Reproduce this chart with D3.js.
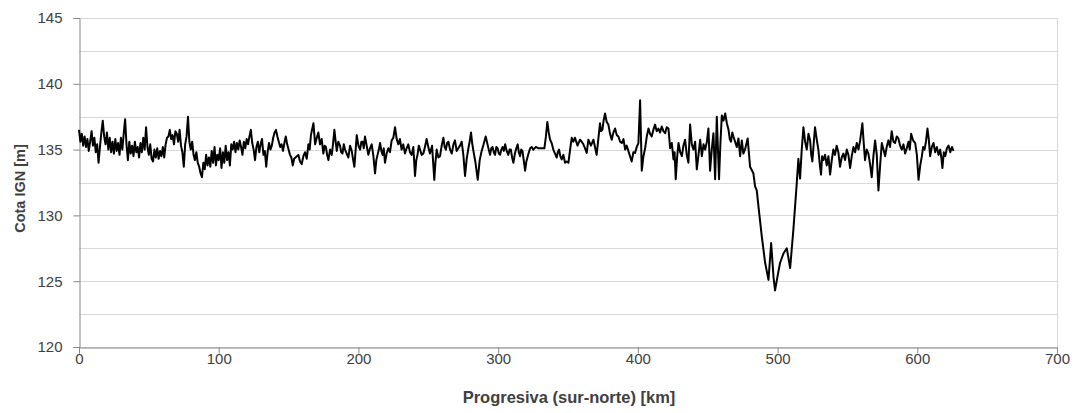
<!DOCTYPE html>
<html><head><meta charset="utf-8">
<script src="https://cdn.jsdelivr.net/npm/d3@7"></script>
<style>
html,body{margin:0;padding:0;background:#fff;}
text{font-family:"Liberation Sans",Arial,sans-serif;fill:#404040;}
</style></head>
<body>
<svg id="c" width="1081" height="413"></svg>
<script>
// --- DATA ---
const progresivaKm = [
0,1,2,3,4,5,6,7,8,9,10,11,12,13,14,15,16,17,18,19,20,21,22,23,24,25,26,27,28,29,
30,31,32,33,34,35,36,37,38,39,40,41,42,43,44,45,46,47,48,49,50,51,52,53,54,55,56,57,58,59,
60,61,62,63,64,65,66,67,68,69,70,71,72,73,74,75,76,77,78,79,80,81,82,83,84,85,86,87,88,89,
90,91,92,93,94,95,96,97,98,99,100,101,102,103,104,105,106,107,108,109,110,111,112,113,114,115,116,117,118,119,
120,121,122,123,124,125,126,127,128,129,130,131,132,133,134,135,136,137,138,139,140,141,142,143,144,145,146,147,148,149,
150,151,152,153,154,
157.0,158.2,159.4,160.6,161.8,163.0,164.2,165.1,166.0,167.8,
169.0,170.2,171.3,172.5,173.7,174.9,175.8,176.7,177.6,178.5,
179.7,180.9,181.8,182.8,183.6,184.5,185.6,186.8,187.7,188.6,
189.5,190.4,191.6,192.8,194.0,195.2,196.1,197.1,198.8,200.0,
201.2,202.1,203.0,203.8,204.7,205.9,207.1,208.3,209.5,210.7,
211.9,212.8,213.7,214.6,215.5,216.4,217.3,218.1,219.0,220.2,
221.4,222.6,223.8,225.0,226.2,227.4,228.6,229.7,230.9,232.1,
233.3,234.5,235.7,236.9,238.1,239.3,240.5,241.4,242.3,243.2,
244.1,245.3,246.5,247.6,248.8,250.0,251.2,252.7,254.3,255.1,
256.0,257.2,258.4,259.6,260.8,261.7,262.6,263.5,264.4,265.6,
266.8,268.0,269.1,270.3,271.5,272.7,273.9,275.1,276.3,277.5,
278.7,279.6,280.6,281.4,282.3,283.8,285.4,286.8,288.2,289.6,
291.1,292.6,294.2,295.1,296.0,296.9,297.8,298.7,299.6,300.5,
301.4,302.3,303.2,304.1,305.0,306.1,307.3,308.2,309.1,310.0,
310.9,
312.1,313.0,314.0,314.8,315.7,316.5,317.4,318.3,319.3,320.2,
321.2,322.0,322.9,324.0,325.2,327.0,328.8,331.0,333.1,334.2,
335.2,336.2,337.2,338.3,339.5,340.7,341.9,342.7,343.6,344.5,
345.5,346.7,347.9,349.1,350.3,351.5,352.7,353.8,355.0,356.8,
358.6,359.8,361.0,362.2,363.4,364.6,366.4,368.2,369.3,370.5,
371.7,372.9,373.7,374.6,375.5,376.5,377.7,378.9,380.1,381.3,
382.5,383.7,384.9,386.1,387.3,388.5,389.7,390.9,392.0,393.2,
394.4,395.6,396.8,398.0,399.2,400.4,401.6,402.8,404.0,405.2,
406.4,407.6,408.7,409.9,411.1,412.3,413.5,414.7,415.9,417.1,
418.3,419.5,420.7,421.9,423.1,424.3,425.5,426.3,427.1,428.1,
429.1,430.3,431.5,432.6,433.8,435.0,436.2,437.4,438.6,439.8,
441.0,442.2,443.4,444.6,445.8,447.0,448.2,449.4,450.5,451.7,
452.9,454.1,455.3,456.5,458.1,459.1,460.1,461.3,462.5,463.7,
464.9,465.8,466.7,467.6,468.4,
469.6,470.8,472.0,473.2,474.4,475.5,476.7,478.6,480.3,482.7,483.9,485.1,486.3,488.7,491.1,493.5,495.4,497.1,498.2,500.2,501.8,504.2,506.6,509.0,511.3,513.7,514.9,
516.1,517.3,518.5,519.7,520.9,522.1,523.3,524.1,524.9,525.9,
526.8,528.0,529.2,530.1,531.1,531.9,532.8,534.0,535.2,536.4,
537.6,538.8,539.9,541.1,542.3,543.5,544.7,545.9,547.1,548.3,
549.5,550.7,551.9,553.1,554.3,555.5,556.7,557.9,559.1,560.7,
561.6,562.6,563.8,565.0,566.2,567.4,568.6,569.8,571.0,572.2,
573.4,574.6,575.8,577.0,578.1,579.3,580.5,581.7,582.9,584.1,
585.3,586.5,587.7,588.9,590.1,591.3,592.5,593.7,594.6,595.6,
597.0,598.5,599.7,600.9,602.1,603.3,604.2,605.2,606.2,607.3,
608.2,609.2,610.4,611.6,612.8,614.0,615.2,616.4,617.2,618.0,
619.0,620.0,621.2,622.4,623.6,624.8,625.9
];
const cotaIGN = [
136.5,135.6,136.2,135.3,136.0,135.2,135.8,134.9,135.6,136.4,135.3,135.9,134.8,135.4,134.0,135.2,136.3,137.2,136.0,135.4,136.3,135.0,135.9,134.8,135.6,134.7,135.8,134.9,135.5,134.6,
135.9,135.0,136.2,137.3,135.4,134.2,135.6,134.7,135.3,134.5,135.6,134.8,135.2,134.4,135.5,134.8,135.9,135.0,136.7,135.2,134.6,135.4,134.3,134.1,135.0,134.4,135.1,134.3,134.9,134.5,
135.2,134.4,135.4,135.9,136.0,136.5,135.8,136.1,135.4,136.4,136.2,135.6,136.5,135.3,134.8,133.7,135.4,136.0,137.5,135.6,135.0,135.6,134.6,134.2,134.8,134.0,133.7,133.2,132.9,134.0,
133.5,134.6,133.8,134.4,133.7,134.9,134.0,135.2,133.8,134.6,134.2,135.1,133.6,134.8,134.0,135.3,134.2,134.8,133.8,135.4,135.0,135.6,134.8,135.5,135.0,135.7,135.2,134.6,135.6,135.1,
135.8,135.4,136.0,136.5,135.5,135.0,134.2,135.2,135.6,134.8,135.4,135.8,134.6,134.9,133.7,134.8,135.5,135.0,135.3,135.9,136.3,136.5,136.0,135.6,135.2,135.4,134.9,135.5,136.0,135.4,
135.0,134.6,134.4,133.8,134.3,
134.6,134.1,133.9,134.5,134.8,134.3,135.4,135.0,136.1,137.0,
135.4,135.9,136.3,135.4,135.8,134.7,135.3,135.2,134.6,134.2,
135.0,134.6,135.4,136.5,135.7,134.9,135.6,135.3,134.8,134.7,
135.4,135.0,134.7,134.4,135.3,134.9,134.3,133.7,136.1,135.3,
135.0,135.6,135.6,135.1,136.0,135.3,134.6,135.1,135.4,134.5,
133.2,134.2,134.6,135.0,135.5,134.9,134.6,135.1,134.0,134.7,
135.1,134.8,135.7,135.9,136.7,135.8,135.4,135.8,135.0,135.4,
134.7,135.1,135.4,134.8,134.6,135.2,133.0,134.2,134.6,135.3,
135.0,134.6,134.7,135.2,135.8,135.2,134.7,135.3,132.7,134.0,
135.0,134.4,134.5,135.3,135.9,135.2,135.0,135.5,135.6,135.0,
134.7,135.4,135.7,134.9,135.1,135.3,135.6,134.6,133.0,134.3,
135.1,135.6,136.3,135.5,134.9,134.0,132.7,134.2,134.9,135.4,
136.0,135.3,134.6,135.1,135.2,134.8,134.6,135.2,135.1,134.7,
134.6,135.0,135.2,134.9,135.4,134.9,134.6,135.0,135.0,134.4,
134.0,
134.75,135.1,135.4,134.8,134.5,135.0,134.9,134.2,133.4,134.1,
134.5,134.8,135.1,135.2,135.0,135.2,135.1,135.1,135.1,136.0,
137.1,136.3,135.75,135.5,135.0,134.7,134.4,134.8,135.0,134.5,
134.25,134.6,134.0,134.1,134.0,135.0,135.9,135.6,135.9,135.3,
135.75,135.6,135.4,135.1,134.75,135.75,135.3,135.75,135.2,134.6,
135.8,137.0,136.4,136.5,137.2,137.75,137.1,136.9,136.2,135.75,
136.3,136.6,136.1,136.0,135.6,135.5,135.8,135.0,135.3,134.9,
134.5,134.1,134.8,134.75,135.2,135.5,138.75,133.4,134.5,135.1,
136.0,136.6,136.2,136.0,136.5,136.9,136.4,136.6,136.3,136.75,
136.4,136.25,136.7,136.6,135.1,135.5,134.25,134.8,132.75,134.4,
135.5,134.8,134.5,135.3,135.75,134.6,134.0,136.9,135.4,135.0,
135.6,133.5,134.6,135.75,134.5,135.4,135.0,135.6,136.6,133.4,
135.0,136.25,132.75,137.5,132.75,135.5,137.6,137.2,137.75,137.0,
136.5,135.8,135.6,136.3,136.0,
135.6,135.2,135.85,134.5,135.7,134.7,135.0,135.85,133.7,133.2,132.2,131.9,130.7,128.4,126.4,125.1,127.9,125.3,124.3,125.5,126.4,127.1,127.5,126.0,128.9,132.4,134.3,
132.8,135.0,136.7,135.6,135.0,136.2,135.7,134.6,134.1,135.5,
136.7,135.8,135.0,134.0,133.1,134.5,134.2,134.6,133.8,134.5,
133.1,134.2,135.0,134.6,135.3,134.8,133.7,134.4,134.7,134.2,
135.0,134.6,133.6,134.5,135.2,134.8,135.5,135.0,135.7,137.0,
135.6,134.2,135.0,134.7,133.9,132.9,134.5,135.7,134.6,131.9,
133.8,135.5,135.0,134.5,135.2,135.7,135.2,136.4,135.6,135.5,
136.0,135.85,135.3,135.0,135.4,134.7,135.1,135.6,135.0,136.2,
135.7,135.5,134.6,132.7,133.8,134.5,135.2,135.0,135.6,136.6,
135.8,134.5,135.2,135.5,134.8,135.2,134.6,135.0,134.4,133.6,
134.8,134.5,135.1,135.3,134.8,135.2,134.9
];
const yTickValues = [120,125,130,135,140,145];
const yGridValues = [120,122.5,125,127.5,130,132.5,135,137.5,140,142.5,145];
const xTickValues = [0,100,200,300,400,500,600,700];
const xTitle = "Progresiva (sur-norte) [km]";
const yTitle = "Cota IGN [m]";

if (progresivaKm.length !== cotaIGN.length) console.error("length mismatch", progresivaKm.length, cotaIGN.length);

const svg = d3.select("#c");
const m = {l:79, r:1057, t:18, b:347};
const x = d3.scaleLinear().domain([0,700]).range([m.l, m.r]);
const y = d3.scaleLinear().domain([120,145]).range([m.b, m.t]);

// gridlines
svg.append("g").selectAll("line").data(yGridValues).join("line")
  .attr("x1", m.l).attr("x2", m.r)
  .attr("y1", d => Math.round(y(d))+0.5).attr("y2", d => Math.round(y(d))+0.5)
  .attr("stroke", "#d9d9d9").attr("stroke-width", 1);
// right border
svg.append("line").attr("x1", m.r+0.5).attr("x2", m.r+0.5).attr("y1", m.t).attr("y2", m.b)
  .attr("stroke", "#d9d9d9");

// axes
const yAxis = d3.axisLeft(y).tickValues(yTickValues).tickSize(6).tickPadding(11).tickFormat(d3.format("d"));
const xAxis = d3.axisBottom(x).tickValues(xTickValues).tickSize(6).tickPadding(0).tickFormat(d3.format("d"));
const gy = svg.append("g").attr("transform", `translate(${m.l+0.5},0)`).call(yAxis);
const gx = svg.append("g").attr("transform", `translate(0,${m.b+0.5})`).call(xAxis);
[gx, gy].forEach(g => {
  g.select(".domain").attr("stroke", "#868686");
  g.selectAll(".tick line").attr("stroke", "#868686");
  g.selectAll(".tick text").style("font-size", "15px").attr("fill", "#404040");
});

// line
const line = d3.line().x((d,i) => x(progresivaKm[i])).y(d => y(d));
svg.append("path").datum(cotaIGN).attr("d", line)
  .attr("fill", "none").attr("stroke", "#000").attr("stroke-width", 2).attr("stroke-linejoin", "round");

// titles
svg.append("text").attr("x", 569).attr("y", 403).attr("text-anchor", "middle")
  .style("font-size", "16.5px").style("font-weight", "bold").attr("fill", "#262626").text(xTitle);
svg.append("text").attr("transform", `translate(25,${(m.t+m.b)/2 + 6}) rotate(-90)`).attr("text-anchor", "middle")
  .style("font-size", "14.5px").style("font-weight", "bold").attr("fill", "#262626").text(yTitle);
</script>
</body></html>
